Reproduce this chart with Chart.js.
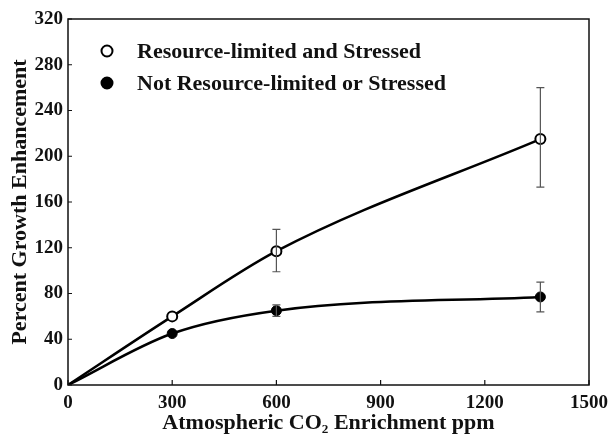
<!DOCTYPE html>
<html><head><meta charset="utf-8">
<script src="https://cdn.jsdelivr.net/npm/chart.js@4/dist/chart.umd.min.js"></script>
<style>html,body{margin:0;padding:0;background:#fff}#wrap{width:608px;height:438px}</style>
</head><body><div id="wrap"><canvas id="c" width="608" height="438"></canvas></div>
<script>
const seriesNames = ["Resource-limited and Stressed", "Not Resource-limited or Stressed"];
const co2 = [0, 300, 600, 1360];
const stressed = [0, 60, 117, 215];
const stressedErrLow = [null, null, 99, 173];
const stressedErrHigh = [null, null, 136, 260];
const notStressed = [0, 45, 65, 77];
const notStressedErrLow = [null, null, 60, 64];
const notStressedErrHigh = [null, null, 70, 90];
const xTicks = [0, 300, 600, 900, 1200, 1500];
const yTicks = [0, 40, 80, 120, 160, 200, 240, 280, 320];
const xTitle = "Atmospheric CO\u2082 Enrichment ppm";
const yTitle = "Percent Growth Enhancement";

const FONT = "'Liberation Serif', 'Times New Roman', serif";

function pts(xs, ys){ return xs.map((x,i)=>({x:x, y:ys[i]})); }

const errorBars = {
  id: 'errorBars',
  afterDatasetsDraw(chart){
    const {ctx, scales:{x, y}} = chart;
    const sets = [[stressedErrLow, stressedErrHigh],[notStressedErrLow, notStressedErrHigh]];
    ctx.save();
    ctx.strokeStyle = '#555';
    ctx.lineWidth = 1.2;
    sets.forEach(([lo, hi]) => {
      co2.forEach((v, i) => {
        if (lo[i] == null) return;
        const px = x.getPixelForValue(v);
        const y1 = y.getPixelForValue(lo[i]), y2 = y.getPixelForValue(hi[i]);
        ctx.beginPath();
        ctx.moveTo(px, y1); ctx.lineTo(px, y2);
        ctx.moveTo(px-4, y1); ctx.lineTo(px+4, y1);
        ctx.moveTo(px-4, y2); ctx.lineTo(px+4, y2);
        ctx.stroke();
      });
    });
    ctx.restore();
  }
};

const frame = {
  id: 'frame',
  afterDraw(chart){
    const {ctx, chartArea:a, scales:{x, y}} = chart;
    ctx.save();
    ctx.strokeStyle = '#111';
    ctx.lineWidth = 1.5;
    ctx.strokeRect(a.left, a.top, a.right-a.left, a.bottom-a.top);
    ctx.lineWidth = 1.2;
    ctx.beginPath();
    xTicks.forEach(t => { const px = x.getPixelForValue(t); ctx.moveTo(px, a.bottom); ctx.lineTo(px, a.bottom-5); });
    yTicks.forEach(t => { const py = y.getPixelForValue(t); ctx.moveTo(a.left, py); ctx.lineTo(a.left+4, py); });
    ctx.stroke();
    // legend
    ctx.font = "bold 22px " + FONT;
    ctx.fillStyle = '#111';
    ctx.textBaseline = 'middle';
    const lx = 107, rows = [51, 83];
    rows.forEach((ry, i) => {
      ctx.beginPath();
      ctx.arc(lx, ry, 5.5, 0, Math.PI*2);
      ctx.fillStyle = i === 0 ? '#fff' : '#000';
      ctx.fill();
      ctx.lineWidth = 2; ctx.strokeStyle = '#000';
      ctx.stroke();
      ctx.fillStyle = '#111';
      ctx.fillText(seriesNames[i], 137, ry + 1);
    });
    ctx.restore();
  }
};

new Chart(document.getElementById('c'), {
  type: 'line',
  data: {
    datasets: [
      { label: seriesNames[0], data: pts(co2, stressed), borderColor: '#000', borderWidth: 2.5,
        cubicInterpolationMode: 'monotone', pointRadius: co2.map(v=>v===0?0:5), pointBackgroundColor: '#fff',
        pointBorderColor: '#000', pointBorderWidth: 2, fill: false },
      { label: seriesNames[1], data: pts(co2, notStressed), borderColor: '#000', borderWidth: 2.5,
        cubicInterpolationMode: 'monotone', pointRadius: co2.map(v=>v===0?0:5), pointBackgroundColor: '#000',
        pointBorderColor: '#000', pointBorderWidth: 1, fill: false }
    ]
  },
  options: {
    responsive: false, animation: false, devicePixelRatio: 1,
    layout: { padding: { left: 7, right: 1, top: 19, bottom: 0 } },
    plugins: { legend: { display: false }, tooltip: { enabled: false } },
    scales: {
      x: { type: 'linear', min: 0, max: 1500,
        afterFit(s){ s.height = 53; s.paddingRight = 19; },
        afterBuildTicks(s){ s.ticks = xTicks.map(v=>({value:v})); },
        grid: { display: false, drawTicks: false }, border: { display: false },
        ticks: { color: '#111', font: { family: FONT, size: 19, weight: 'bold' }, padding: 7, maxRotation: 0,
          callback: v => String(v) },
        title: { display: true, text: xTitle, color: '#111', font: { family: FONT, size: 22, weight: 'bold' }, padding: { top: 0, bottom: 1 } } },
      y: { type: 'linear', min: 0, max: 320,
        afterFit(s){ s.width = 61; },
        afterBuildTicks(s){ s.ticks = yTicks.map(v=>({value:v})); },
        grid: { display: false, drawTicks: false }, border: { display: false },
        ticks: { color: '#111', font: { family: FONT, size: 19, weight: 'bold' }, padding: 5, callback: v => String(v) },
        title: { display: true, text: yTitle, color: '#111', font: { family: FONT, size: 22, weight: 'bold' }, padding: { top: 0, bottom: 0 } } }
    }
  },
  plugins: [errorBars, frame]
});
</script></body></html>
